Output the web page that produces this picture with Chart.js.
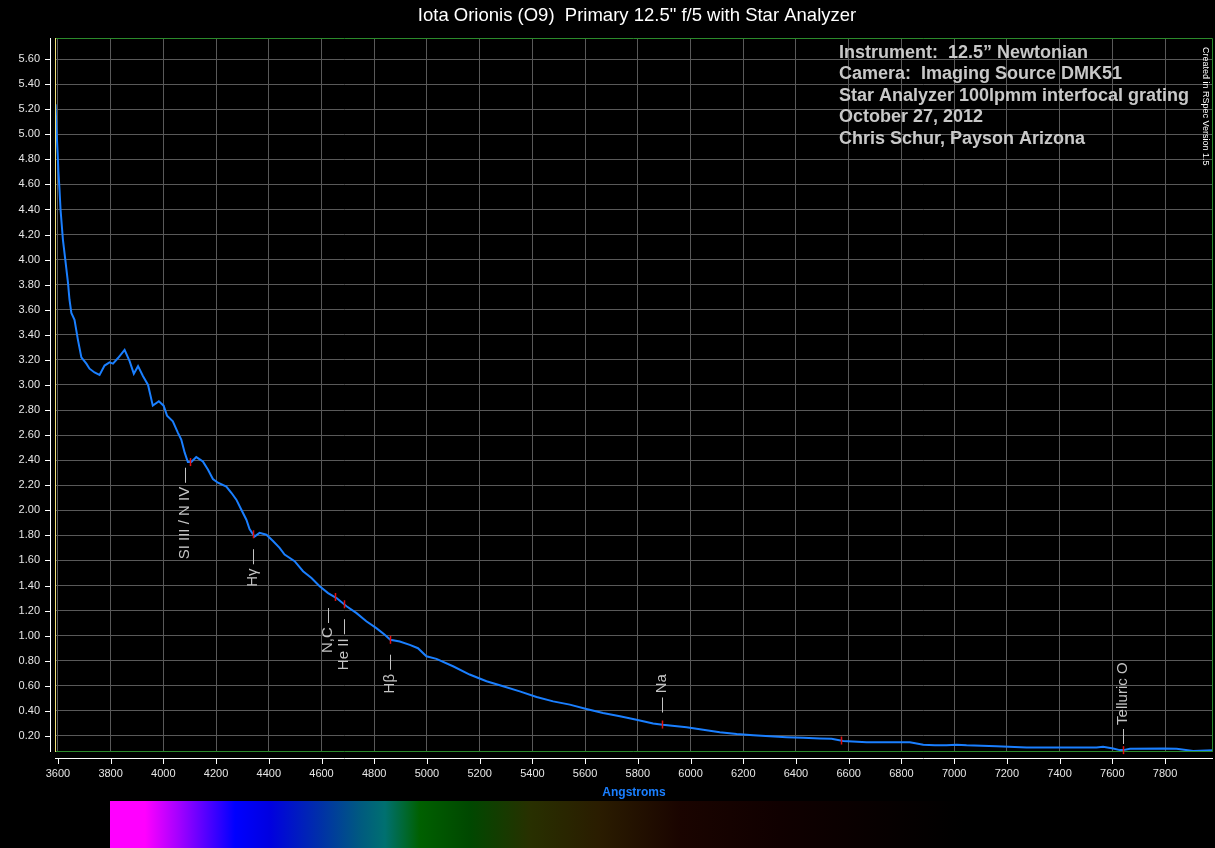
<!DOCTYPE html>
<html>
<head>
<meta charset="utf-8">
<title>Iota Orionis (O9) spectrum</title>
<script src="https://cdn.jsdelivr.net/npm/chart.js@4.4.1/dist/chart.umd.min.js"></script>
<style>
    html, body { margin: 0; padding: 0; background: #000; overflow: hidden; }
    #spectrumChart { display: block; }
</style>
</head>
<body>
<canvas id="spectrumChart" width="1215" height="848"></canvas>
<script>
// wavelengths (Angstroms) and relative intensity
var wavelengths = [
    3591, 3595, 3599, 3602, 3606, 3610, 3619, 3628, 3638, 3644,
    3651, 3663, 3676, 3689, 3708, 3720, 3739, 3758, 3777, 3796,
    3809, 3828, 3853, 3872, 3888, 3904, 3923, 3942, 3960, 3983,
    4001, 4014, 4036, 4055, 4068, 4081, 4093, 4106, 4125, 4150,
    4169, 4188, 4207, 4239, 4258, 4277, 4296, 4315, 4327, 4346,
    4365, 4391, 4416, 4441, 4460, 4498, 4530, 4562, 4593, 4625,
    4657, 4695, 4733, 4770, 4808, 4840, 4861, 4897, 4935, 4966,
    4998, 5036, 5099, 5162, 5226, 5289, 5352, 5416, 5479, 5542,
    5605, 5668, 5732, 5795, 5858, 5894, 5985, 6048, 6111, 6175,
    6238, 6301, 6364, 6427, 6491, 6535, 6579, 6668, 6832, 6883,
    6927, 6971, 7009, 7047, 7161, 7275, 7540, 7565, 7603, 7628,
    7642, 7667, 7794, 7844, 7907, 7983
];
var intensity = [
    5.24, 5.02, 4.85, 4.70, 4.56, 4.40, 4.16, 4.00, 3.82, 3.68,
    3.575, 3.52, 3.36, 3.22, 3.17, 3.13, 3.10, 3.08, 3.155, 3.18,
    3.17, 3.215, 3.28, 3.19, 3.09, 3.15, 3.07, 3.00, 2.835, 2.87,
    2.835, 2.755, 2.71, 2.62, 2.565, 2.46, 2.385, 2.385, 2.425, 2.39,
    2.325, 2.25, 2.22, 2.19, 2.14, 2.085, 2.005, 1.925, 1.85, 1.79,
    1.82, 1.805, 1.755, 1.70, 1.647, 1.594, 1.514, 1.46, 1.394, 1.34,
    1.30, 1.235, 1.18, 1.115, 1.06, 1.007, 0.967, 0.954, 0.927, 0.90,
    0.836, 0.815, 0.756, 0.69, 0.636, 0.596, 0.556, 0.511, 0.476, 0.45,
    0.415, 0.383, 0.357, 0.33, 0.30, 0.29, 0.27, 0.25, 0.23, 0.215,
    0.205, 0.197, 0.19, 0.185, 0.18, 0.177, 0.16, 0.15, 0.15, 0.13,
    0.125, 0.125, 0.13, 0.125, 0.117, 0.107, 0.107, 0.113, 0.10, 0.087,
    0.087, 0.097, 0.10, 0.097, 0.08, 0.087
];

var xTicks = [3600, 3800, 4000, 4200, 4400, 4600, 4800, 5000, 5200, 5400, 5600,
    5800, 6000, 6200, 6400, 6600, 6800, 7000, 7200, 7400, 7600, 7800];
var yTicks = [0.20, 0.40, 0.60, 0.80, 1.00, 1.20, 1.40, 1.60, 1.80, 2.00, 2.20, 2.40,
    2.60, 2.80, 3.00, 3.20, 3.40, 3.60, 3.80, 4.00, 4.20, 4.40, 4.60, 4.80, 5.00,
    5.20, 5.40, 5.60];

// identified lines: marker wavelength, label, label wavelength, side of curve
var lineWl = [4102, 4340, 4650, 4686, 4861, 5890, 6570, 7640];
var lineLabels = ['SI III / N IV \u2014', 'H\u03b3 \u2014', 'N,C \u2014', 'He II \u2014', 'H\u03b2 \u2014', '\u2014 Na', '', '\u2014 Telluric O'];
var labelWl = [4081, 4340, 4625, 4686, 4861, 5890, 6570, 7640];
var labelSide = ['below', 'below', 'below', 'below', 'below', 'above', 'none', 'above'];

var chartTitle = 'Iota Orionis (O9)  Primary 12.5" f/5 with Star Analyzer';
var infoLines = [
    'Instrument:  12.5\u201d Newtonian',
    'Camera:  Imaging Source DMK51',
    'Star Analyzer 100lpmm interfocal grating',
    'October 27, 2012',
    'Chris Schur, Payson Arizona'
];

var FONT = '"Liberation Sans", Arial, sans-serif';

function valueAt(wl) {
    for (var i = 0; i < wavelengths.length - 1; i++) {
        if (wl >= wavelengths[i] && wl <= wavelengths[i + 1]) {
            var t = (wl - wavelengths[i]) / (wavelengths[i + 1] - wavelengths[i]);
            return intensity[i] + t * (intensity[i + 1] - intensity[i]);
        }
    }
    return intensity[intensity.length - 1];
}

var decorPlugin = {
    id: 'decor',
    beforeDraw: function (chart) {
        var ctx = chart.ctx;
        ctx.save();
        ctx.fillStyle = '#000';
        ctx.fillRect(0, 0, chart.width, chart.height);
        ctx.restore();
    },
    afterDatasetsDraw: function (chart) {
        var ctx = chart.ctx;
        var area = chart.chartArea;
        var xs = chart.scales.x;
        var ys = chart.scales.y;

        ctx.save();
        // title
        ctx.fillStyle = '#ffffff';
        ctx.font = '18.5px ' + FONT;
        ctx.textAlign = 'center';
        ctx.textBaseline = 'middle';
        ctx.fillText(chartTitle, 637, 16);

        // green frame
        ctx.strokeStyle = '#2b8a2b';
        ctx.lineWidth = 1;
        ctx.beginPath();
        ctx.moveTo(area.left, area.top + 0.5);
        ctx.lineTo(area.right - 0.5, area.top + 0.5);
        ctx.lineTo(area.right - 0.5, area.bottom - 0.5);
        ctx.lineTo(area.left, area.bottom - 0.5);
        ctx.stroke();

        // yellow cursor line at left edge
        ctx.strokeStyle = '#f2e27a';
        ctx.beginPath();
        ctx.moveTo(area.left + 0.5, area.top);
        ctx.lineTo(area.left + 0.5, area.bottom);
        ctx.stroke();

        // white axis lines and ticks
        ctx.strokeStyle = '#ffffff';
        ctx.beginPath();
        ctx.moveTo(area.left - 4.5, area.top);
        ctx.lineTo(area.left - 4.5, area.bottom);
        ctx.moveTo(area.left, area.bottom + 6.5);
        ctx.lineTo(area.right, area.bottom + 6.5);
        yTicks.forEach(function (v) {
            var py = Math.round(ys.getPixelForValue(v)) + 0.5;
            ctx.moveTo(area.left - 10, py);
            ctx.lineTo(area.left - 4.5, py);
        });
        xTicks.forEach(function (v) {
            var px = Math.round(xs.getPixelForValue(v)) + 0.5;
            ctx.moveTo(px, area.bottom + 6.5);
            ctx.lineTo(px, area.bottom + 12);
        });
        ctx.stroke();

        // red line markers and labels
        ctx.font = '15px ' + FONT;
        ctx.textBaseline = 'middle';
        for (var i = 0; i < lineWl.length; i++) {
            var mx = Math.round(xs.getPixelForValue(lineWl[i])) + 0.5;
            var my = ys.getPixelForValue(valueAt(lineWl[i]));
            ctx.strokeStyle = '#e01010';
            ctx.lineWidth = 1.5;
            ctx.beginPath();
            ctx.moveTo(mx, my - 4);
            ctx.lineTo(mx, my + 4);
            ctx.stroke();

            if (labelSide[i] === 'none') continue;
            var lx = xs.getPixelForValue(labelWl[i]);
            var ly = ys.getPixelForValue(valueAt(labelWl[i]));
            ctx.save();
            ctx.fillStyle = '#c4c4c4';
            if (labelSide[i] === 'below') {
                ctx.translate(lx, ly + 15);
                ctx.rotate(-Math.PI / 2);
                ctx.textAlign = 'right';
            } else {
                ctx.translate(lx, ly - (lineLabels[i].indexOf('Telluric') > 0 ? 6 : 12));
                ctx.rotate(-Math.PI / 2);
                ctx.textAlign = 'left';
            }
            ctx.fillText(lineLabels[i], 0, 0);
            ctx.restore();
        }

        // instrument info block
        ctx.fillStyle = '#c8c8c8';
        ctx.font = 'bold 18px ' + FONT;
        ctx.textAlign = 'left';
        ctx.textBaseline = 'middle';
        infoLines.forEach(function (s, k) {
            ctx.fillText(s, 839, 53 + k * 21.5);
        });

        // vertical credit
        ctx.save();
        ctx.translate(1205, 47);
        ctx.rotate(Math.PI / 2);
        ctx.fillStyle = '#ffffff';
        ctx.font = '9px ' + FONT;
        ctx.textAlign = 'left';
        ctx.fillText('Created in RSpec Version 1.5', 0, 0);
        ctx.restore();

        // synthetic spectrum strip
        var sx0 = 110, sx1 = 1213, sy0 = 801;
        var grad = ctx.createLinearGradient(sx0, 0, sx1, 0);
        var stops = [
            [110, '#ff00ff'], [145, '#ff00ff'], [180, '#a000ff'], [235, '#0000ff'],
            [270, '#0000e0'], [320, '#0030a8'], [360, '#005a80'], [385, '#007070'],
            [405, '#006830'], [420, '#006000'], [470, '#004800'], [530, '#283000'],
            [600, '#2a1c00'], [680, '#1a0400'], [780, '#100000'], [900, '#050000'],
            [965, '#000000'], [1213, '#000000']
        ];
        stops.forEach(function (s) {
            grad.addColorStop((s[0] - sx0) / (sx1 - sx0), s[1]);
        });
        ctx.fillStyle = grad;
        ctx.fillRect(sx0, sy0, sx1 - sx0, chart.height - sy0);
        ctx.restore();
    }
};

document.addEventListener('DOMContentLoaded', function () {
    var ctx = document.getElementById('spectrumChart').getContext('2d');

    var points = wavelengths.map(function (w, i) {
        return { x: w, y: intensity[i] };
    });

    var spectrumChart = new Chart(ctx, {
        type: 'line',
        data: {
            datasets: [{
                label: 'Iota Orionis',
                data: points,
                borderColor: '#1a7fff',
                borderWidth: 2,
                pointRadius: 0,
                fill: false,
                tension: 0
            }]
        },
        options: {
            responsive: false,
            animation: false,
            devicePixelRatio: 1,
            layout: {
                padding: { top: 38, right: 2, left: 0, bottom: 0 }
            },
            plugins: {
                legend: { display: false },
                tooltip: { enabled: false },
                title: { display: false }
            },
            scales: {
                x: {
                    type: 'linear',
                    min: 3589,
                    max: 7982,
                    afterBuildTicks: function (scale) {
                        scale.ticks = xTicks.map(function (v) { return { value: v }; });
                    },
                    afterFit: function (scale) {
                        scale.height = 96;
                    },
                    grid: {
                        color: '#595959',
                        drawTicks: false
                    },
                    border: { display: false },
                    ticks: {
                        color: '#e6e6e6',
                        font: { family: FONT, size: 11 },
                        padding: 15,
                        maxRotation: 0,
                        autoSkip: false,
                        callback: function (v) { return String(v); }
                    },
                    title: {
                        display: true,
                        text: 'Angstroms',
                        color: '#1a7fff',
                        font: { family: FONT, size: 12, weight: 'bold' },
                        padding: { top: 0, bottom: 48 }
                    }
                },
                y: {
                    min: 0.072,
                    max: 5.768,
                    afterBuildTicks: function (scale) {
                        scale.ticks = yTicks.map(function (v) { return { value: v }; });
                    },
                    afterFit: function (scale) {
                        scale.width = 55;
                    },
                    grid: {
                        color: '#595959',
                        drawTicks: false
                    },
                    border: { display: false },
                    ticks: {
                        color: '#e6e6e6',
                        font: { family: FONT, size: 11 },
                        padding: 15,
                        autoSkip: false,
                        callback: function (v) { return v.toFixed(2); }
                    }
                }
            }
        },
        plugins: [decorPlugin]
    });
});
</script>
</body>
</html>
